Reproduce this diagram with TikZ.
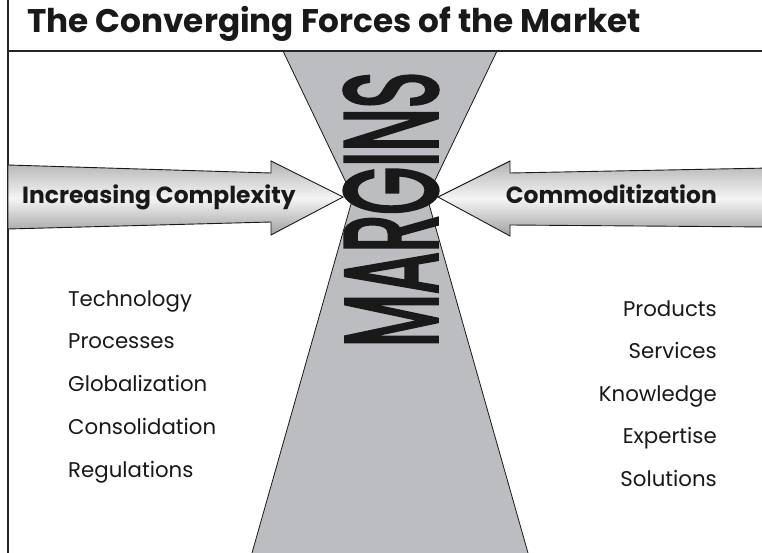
\documentclass[tikz,border=0pt]{standalone}
\usepackage{fontspec}
\setmainfont{Poppins}
\newfontfamily\marginsfont{Poppins}[FakeBold=3.5]
\usetikzlibrary{calc}
\definecolor{glassgray}{RGB}{188,189,193}
\tikzset{
	frameline/.style={line width=1.2pt, black!85},
	glass/.style={fill=glassgray, draw=black!90, line width=0.8pt},
	forcearrow/.style={draw=black!90, line width=0.9pt, top color=gray!60, bottom color=gray!75, middle color=gray!8},
	arrowlabel/.style={font=\fontsize{23.4}{26}\selectfont\bfseries, inner sep=0pt, text=black!90},
	listitem/.style={font=\fontsize{21.3}{24}\selectfont, inner sep=0pt, text=black!90},
}
\begin{document}
\begin{tikzpicture}[x=1pt,y=-1pt]
	\useasboundingbox (0,0) rectangle (762,553);
	\fill[white] (0,0) rectangle (762,553);
	% hourglass
	\draw[glass] (283,51) -- (353,197) -- (250,560) -- (530,560) -- (427,197) -- (497,51) -- cycle;
	% frame
	\draw[frameline] (8,0) coordinate (ftop) -- (8,560) coordinate (fbot);
	\draw[frameline] (8,51) coordinate (hl) -- (770,51) coordinate (hr);
	\node[anchor=base west, inner sep=0pt, font=\fontsize{32.7}{36}\selectfont\bfseries, text=black!90] (title) at (27,33) {The Converging Forces of the Market};
	% arrows
	\shade[forcearrow] (8,165) -- (271,173) -- (271,161) -- (343,197) -- (271,235) -- (271,222) -- (8,229) -- cycle;
	\shade[forcearrow] (770,168) -- (510,173) -- (510,161) -- (438,197) -- (510,236) -- (510,225) -- (770,227) -- cycle;
	\node[arrowlabel, anchor=base west] (cplx) at (22,204) {Increasing Complexity};
	\node[arrowlabel, anchor=base east] (comm) at (717,204) {Commoditization};
	% margins
	\node[rotate=90, inner sep=0pt, text=black!90] (margins) at (391,209.5) {\resizebox{275pt}{92pt}{\marginsfont MARGINS}};
	% lists
	\foreach \txt [count=\i] in {Technology,Processes,Globalization,Consolidation,Regulations}
		\node[listitem, anchor=base west] (left\i) at (68,{306+42.75*(\i-1)}) {\txt};
	\foreach \txt [count=\i] in {Products,Services,Knowledge,Expertise,Solutions}
		\node[listitem, anchor=base east] (right\i) at (717,{316+42.5*(\i-1)}) {\txt};
\end{tikzpicture}
\end{document}
